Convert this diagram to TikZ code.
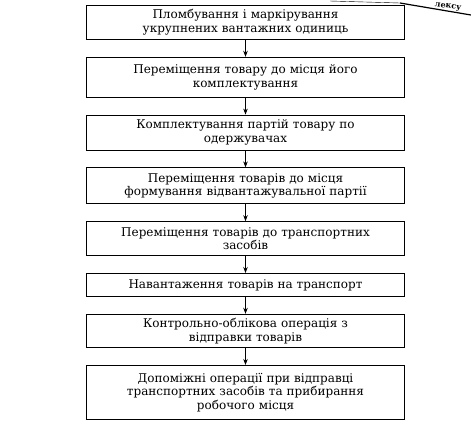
\documentclass[tikz,border=0pt]{standalone}
\usepackage{fontspec}
\setmainfont{DejaVu Serif}
\usetikzlibrary{positioning,arrows.meta}
\begin{document}
\begin{tikzpicture}[x=1pt,y=1pt,
	stage/.style={draw, thick, text width=310pt, align=center, inner sep=4pt,
		font=\fontsize{12}{13.5}\selectfont},
	flow/.style={thick, -{Stealth[length=6pt,width=4.5pt]}},
	node distance=17pt]
	\useasboundingbox (0,0) rectangle (471,-424);
	% fragment of the previous figure
	\draw[thin] (330,-1)--(400,-3);
	\draw[very thick] (400,-3)--(471,-15);
	\node[rotate=-8, font=\bfseries\fontsize{8}{9}\selectfont] (frag) at (448,-7) {лексу};
	\node[stage, minimum height=34pt, below=5pt of {(245.5,0)}, anchor=north] (s1) {Пломбування і маркірування\\укрупнених вантажних одиниць};
	\node[stage, minimum height=40pt, below=of s1] (s2) {Переміщення товару до місця його\\комплектування};
	\node[stage, minimum height=35pt, below=of s2] (s3) {Комплектування партій товару по\\одержувачах};
	\node[stage, minimum height=36pt, below=of s3] (s4) {Переміщення товарів до місця\\формування відвантажувальної партії};
	\node[stage, minimum height=34pt, below=of s4] (s5) {Переміщення товарів до транспортних\\засобів};
	\node[stage, minimum height=23pt, below=of s5] (s6) {Навантаження товарів на транспорт};
	\node[stage, minimum height=27pt, below=of s6] (s7) {Контрольно-облікова операція з\\відправки товарів};
	\node[stage, minimum height=54pt, below=of s7] (s8) {Допоміжні операції при відправці\\транспортних засобів та прибирання\\робочого місця};
	\foreach \a/\b in {s1/s2,s2/s3,s3/s4,s4/s5,s5/s6,s6/s7,s7/s8}
		\draw[flow] (\a) -- (\b);
\end{tikzpicture}
\end{document}
